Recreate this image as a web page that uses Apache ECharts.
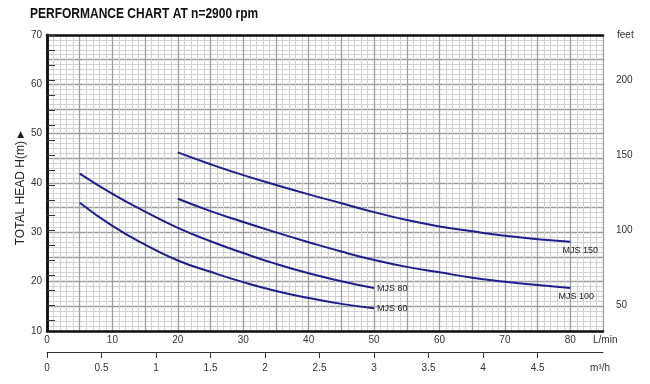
<!DOCTYPE html>
<html>
<head>
<meta charset="utf-8">
<script src="https://cdn.jsdelivr.net/npm/echarts@6/dist/echarts.min.js"></script>
<style>
html,body{margin:0;padding:0;background:#fff;}
#c{width:650px;height:384px;}
</style>
</head>
<body>
<div id="c"></div>
<script>
// ---- data ----
const flowA = [5, 10, 15, 20, 25, 30, 35, 40, 45, 50];              // L/min (MJS 60, MJS 80)
const mjs60 = [36.0, 31.3, 27.5, 24.3, 22.0, 19.9, 18.1, 16.7, 15.5, 14.6];
const mjs80 = [41.9, 37.8, 34.2, 30.9, 28.2, 25.8, 23.6, 21.7, 20.1, 18.7];
const flowB = [20, 25, 30, 35, 40, 45, 50, 55, 60, 65, 70, 75, 80]; // L/min (MJS 100, MJS 150)
const mjs100 = [36.8, 34.3, 32.1, 30.0, 28.0, 26.1, 24.4, 23.0, 21.9, 20.8, 20.0, 19.3, 18.7];
const mjs150 = [46.2, 43.8, 41.6, 39.6, 37.7, 35.9, 34.1, 32.5, 31.2, 30.2, 29.3, 28.6, 28.1];
const seriesNames = ['MJS 60', 'MJS 80', 'MJS 100', 'MJS 150'];
const flowLabels = [0, 10, 20, 30, 40, 50, 60, 70, 80];           // L/min tick labels
const headLabels = [10, 20, 30, 40, 50, 60, 70];                   // m tick labels
const m3hTicks = [0, 0.5, 1, 1.5, 2, 2.5, 3, 3.5, 4, 4.5];         // m3/h tick labels
const feetLabels = [50, 100, 150, 200];                            // feet tick labels
const feetTicks = [40, 50, 60, 70, 80, 90, 100, 110, 120, 130, 140, 150, 160, 170, 180, 190, 200, 210, 220, 230];

const FT = 3.28084;
const X_MAX = 85, Y_MIN = 10, Y_MAX = 70;
const FONT = 'Liberation Sans, Arial, Helvetica, sans-serif';
const zip = (xs, ys) => xs.map((x, i) => [x, ys[i]]);

const chart = echarts.init(document.getElementById('c'), null, {renderer: 'canvas'});
const lineColor = '#1e1e8c';
const border = {show: true, lineStyle: {color: '#111', width: 2.5}};

function mkSeries(name, data, labelCfg) {
  return {
    name, type: 'line', data, smooth: 0.5, showSymbol: false,
    lineStyle: {color: lineColor, width: 2}, silent: true, z: 5,
    endLabel: Object.assign({show: true, formatter: name, fontSize: 9, color: '#222', fontFamily: FONT}, labelCfg)
  };
}

chart.setOption({
  animation: false,
  backgroundColor: '#fff',
  grid: {left: 47, right: 47, top: 35, bottom: 53, containLabel: false},
  xAxis: [
    {
      type: 'value', position: 'bottom', min: 0, max: X_MAX, interval: 5,
      axisLine: border, axisTick: {show: false},
      axisLabel: {formatter: v => flowLabels.includes(v) ? String(v) : '', fontSize: 10, color: '#333', margin: 4, fontFamily: FONT},
      splitLine: {show: true, lineStyle: {color: '#9e9e9e', width: 1.3}},
      minorTick: {show: false, splitNumber: 5},
      minorSplitLine: {show: true, lineStyle: {color: '#d2d2d2', width: 1}}
    },
    {
      type: 'value', position: 'bottom', offset: 21, min: 0, max: X_MAX * 0.06,
      axisLine: {show: true, onZero: false, lineStyle: {color: '#333', width: 1}},
      axisTick: {show: true, customValues: m3hTicks, length: 6, lineStyle: {color: '#333'}},
      axisLabel: {customValues: m3hTicks, fontSize: 10, color: '#333', margin: 11, fontFamily: FONT},
      splitLine: {show: false}
    },
    {
      type: 'value', position: 'top', min: 0, max: X_MAX,
      axisLine: border, axisTick: {show: false}, axisLabel: {show: false}, splitLine: {show: false}
    }
  ],
  yAxis: [
    {
      type: 'value', position: 'left', min: Y_MIN, max: Y_MAX, interval: 5,
      axisLine: border, axisTick: {show: false},
      axisLabel: {formatter: v => headLabels.includes(v) ? String(v) : '', fontSize: 10, color: '#333', margin: 5, fontFamily: FONT},
      splitLine: {show: true, lineStyle: {color: '#9e9e9e', width: 1.3}},
      minorTick: {show: false, splitNumber: 5},
      minorSplitLine: {show: true, lineStyle: {color: '#d2d2d2', width: 1}}
    },
    {
      type: 'value', position: 'right', min: Y_MIN * FT, max: Math.max(Y_MAX * FT, 230),
      axisLine: border,
      axisTick: {show: true, customValues: feetTicks, length: 8, lineStyle: {color: '#333', width: 1}},
      axisLabel: {customValues: feetLabels, fontSize: 10, color: '#333', margin: 13, fontFamily: FONT},
      splitLine: {show: false}
    }
  ],
  series: [
    mkSeries(seriesNames[0], zip(flowA, mjs60), {distance: 3}),
    mkSeries(seriesNames[1], zip(flowA, mjs80), {distance: 3}),
    mkSeries(seriesNames[2], zip(flowB, mjs100), {distance: 0, align: 'center', verticalAlign: 'top', offset: [6, 4]}),
    mkSeries(seriesNames[3], zip(flowB, mjs150), {distance: 0, align: 'center', verticalAlign: 'top', offset: [10, 4]})
  ],
  graphic: [
    {type: 'text', x: 30, y: 6, scaleX: 0.8, style: {text: 'PERFORMANCE CHART AT n=2900 rpm', fill: '#111',
      font: 'bold 15px "Liberation Sans", Arial, sans-serif'}},
    {type: 'text', x: 21, y: 188, rotation: Math.PI / 2, style: {
      text: 'TOTAL HEAD H(m) {a|▶}', fill: '#222', align: 'center', verticalAlign: 'middle',
      font: '12px ' + FONT, rich: {a: {fontSize: 9, fill: '#222'}}}},
    {type: 'text', x: 593, y: 340, style: {text: 'L/min', fill: '#333', verticalAlign: 'middle', font: '10px ' + FONT}},
    {type: 'text', x: 590, y: 368, style: {text: 'm³/h', fill: '#333', verticalAlign: 'middle', font: '10px ' + FONT}},
    {type: 'text', x: 617, y: 35, style: {text: 'feet', fill: '#333', verticalAlign: 'middle', font: '10px ' + FONT}}
  ]
});
</script>
</body>
</html>
